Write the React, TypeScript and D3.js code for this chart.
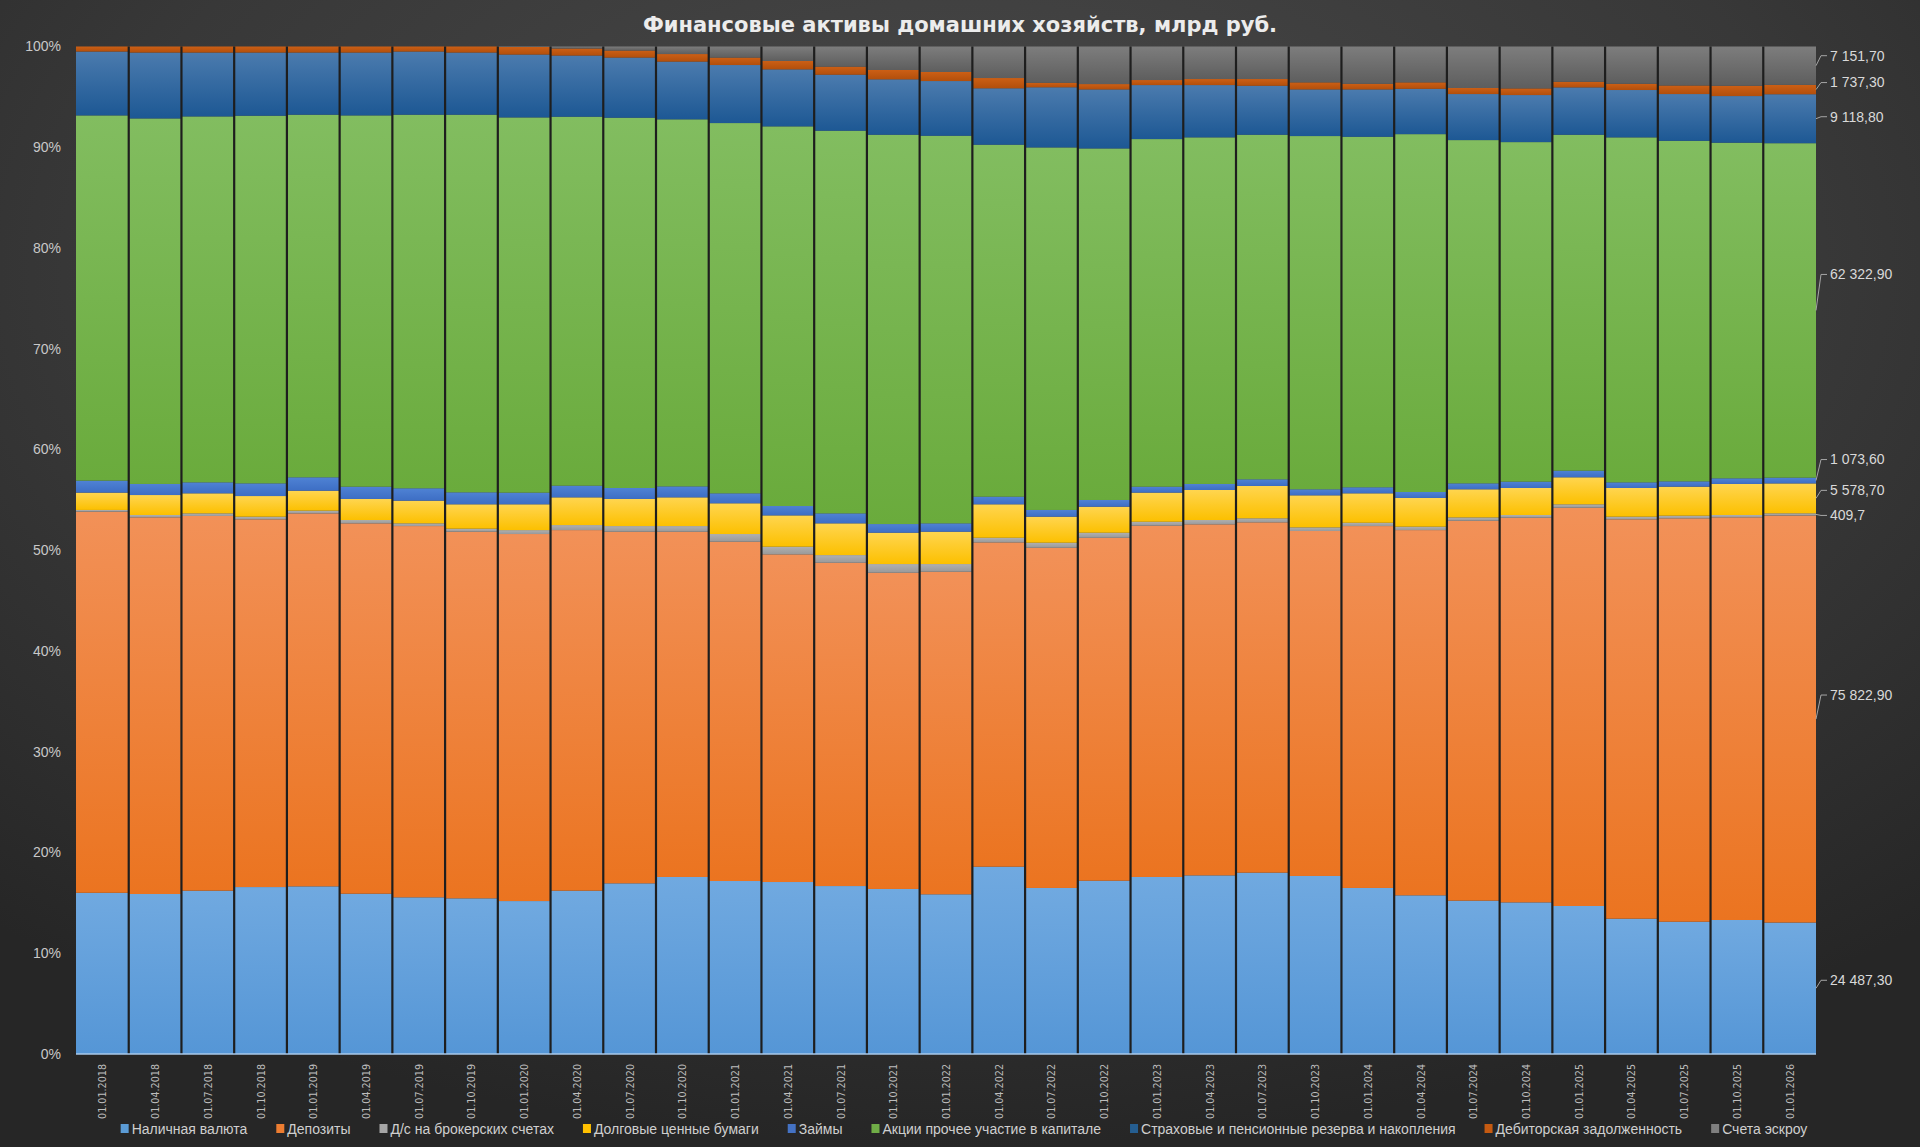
import React from 'react'
import * as d3 from 'd3'

const dates = [
    '01.01.2018', '01.04.2018', '01.07.2018', '01.10.2018',
    '01.01.2019', '01.04.2019', '01.07.2019', '01.10.2019',
    '01.01.2020', '01.04.2020', '01.07.2020', '01.10.2020',
    '01.01.2021', '01.04.2021', '01.07.2021', '01.10.2021',
    '01.01.2022', '01.04.2022', '01.07.2022', '01.10.2022',
    '01.01.2023', '01.04.2023', '01.07.2023', '01.10.2023',
    '01.01.2024', '01.04.2024', '01.07.2024', '01.10.2024',
    '01.01.2025', '01.04.2025', '01.07.2025', '01.10.2025',
    '01.01.2026'
]

// shares of total, %
const cash = [16.0, 15.88, 16.21, 16.57, 16.64, 15.91, 15.55, 15.45, 15.18, 16.21, 16.94, 17.57, 17.17, 17.07, 16.67, 16.38, 15.85, 18.59, 16.48, 17.2, 17.57, 17.73, 18.0, 17.67, 16.48, 15.75, 15.22, 15.05, 14.69, 13.43, 13.13, 13.3, 13.05]
const deposits = [37.83, 37.39, 37.19, 36.5, 37.02, 36.76, 36.85, 36.39, 36.43, 35.79, 34.9, 34.27, 33.68, 32.52, 32.09, 31.39, 32.02, 32.19, 33.77, 34.04, 34.87, 34.84, 34.77, 34.24, 35.92, 36.25, 37.71, 38.18, 39.53, 39.64, 40.04, 39.97, 40.4]
const broker = [0.17, 0.23, 0.26, 0.26, 0.27, 0.33, 0.27, 0.3, 0.39, 0.5, 0.56, 0.56, 0.76, 0.76, 0.76, 0.86, 0.76, 0.46, 0.5, 0.5, 0.39, 0.43, 0.4, 0.36, 0.33, 0.34, 0.33, 0.27, 0.34, 0.26, 0.26, 0.23, 0.22]
const debt = [1.72, 1.98, 1.99, 2.05, 1.98, 2.09, 2.25, 2.42, 2.56, 2.75, 2.69, 2.85, 3.05, 3.11, 3.15, 3.11, 3.21, 3.32, 2.58, 2.58, 2.89, 2.98, 3.21, 3.18, 2.92, 2.85, 2.79, 2.68, 2.68, 2.85, 2.88, 3.08, 2.97]
const loans = [1.19, 1.1, 1.09, 1.26, 1.33, 1.22, 1.23, 1.19, 1.16, 1.16, 1.09, 1.09, 0.99, 0.93, 0.99, 0.86, 0.83, 0.76, 0.67, 0.67, 0.59, 0.6, 0.66, 0.6, 0.6, 0.59, 0.59, 0.63, 0.66, 0.56, 0.53, 0.56, 0.57]
const equity = [36.25, 36.28, 36.32, 36.49, 35.99, 36.85, 37.08, 37.48, 37.24, 36.62, 36.75, 36.43, 36.75, 37.68, 37.98, 38.64, 38.47, 34.93, 35.98, 34.89, 34.5, 34.4, 34.2, 35.06, 34.79, 35.52, 34.07, 33.7, 33.34, 34.24, 33.8, 33.31, 33.2]
const insurance = [6.34, 6.54, 6.34, 6.27, 6.17, 6.24, 6.27, 6.17, 6.24, 6.07, 5.97, 5.73, 5.76, 5.66, 5.56, 5.5, 5.43, 5.6, 5.97, 5.86, 5.36, 5.19, 4.86, 4.63, 4.7, 4.5, 4.57, 4.67, 4.7, 4.7, 4.64, 4.63, 4.86]
const receivables = [0.5, 0.6, 0.6, 0.6, 0.6, 0.6, 0.5, 0.6, 0.75, 0.7, 0.7, 0.75, 0.74, 0.83, 0.8, 0.93, 0.9, 1.02, 0.45, 0.53, 0.5, 0.6, 0.67, 0.7, 0.56, 0.64, 0.6, 0.66, 0.56, 0.62, 0.85, 1.02, 0.93]
const escrow = [0, 0, 0, 0, 0, 0, 0, 0, 0.05, 0.2, 0.4, 0.75, 1.1, 1.44, 2.0, 2.33, 2.53, 3.13, 3.6, 3.73, 3.33, 3.23, 3.23, 3.56, 3.7, 3.56, 4.12, 4.16, 3.5, 3.7, 3.87, 3.9, 3.81]

const seriesNames = [
    'Наличная валюта',
    'Депозиты',
    'Д/с на брокерских счетах',
    'Долговые ценные бумаги',
    'Займы',
    'Акции прочее участие в капитале',
    'Страховые и пенсионные резерва и накопления',
    'Дебиторская задолженность',
    'Счета эскроу'
]
const seriesValues = [cash, deposits, broker, debt, loans, equity, insurance, receivables, escrow]

// values of the last column, млрд руб.
const lastLabels = ['24 487,30', '75 822,90', '409,7', '5 578,70', '1 073,60', '62 322,90', '9 118,80', '1 737,30', '7 151,70']

const colorTop = ['#70a9e0', '#f29158', '#b0b0b0', '#ffd54f', '#4f82d4', '#82bd60', '#4b7bae', '#cc5f15', '#7d7d7d']
const colorBottom = ['#5596d6', '#eb7420', '#999999', '#fcc000', '#3d6ec4', '#6aab3c', '#1d5894', '#b24f0c', '#5e5e5e']
const colorLegend = ['#5b9bd5', '#ed7d31', '#a5a5a5', '#ffc000', '#4472c4', '#70ad47', '#255e91', '#c55a11', '#7f7f7f']

// nudge of the right-hand labels from the middle of their segment
const labelDy = [-8, -24, 1, -8, -21, -36, -2, -7, -10]

const W = 1920
const H = 1147
const margin = { top: 46.5, right: 104, bottom: 93, left: 76 }

const labelFont = '"Liberation Sans", Arial, sans-serif'

const measure = (() => {
    const ctx = document.createElement('canvas').getContext('2d')
    return (s: string, font: string) => {
        ctx.font = font
        return ctx.measureText(s).width
    }
})()

export default function App() {
    const rows = dates.map((d, i) => {
        const r: any = { date: d }
        seriesNames.forEach((n, j) => (r[n] = seriesValues[j][i]))
        return r
    })

    const stacked = d3.stack().keys(seriesNames).offset(d3.stackOffsetExpand)(rows)

    const x = d3
        .scaleBand()
        .domain(dates)
        .range([margin.left, W - margin.right])
        .padding(0)

    const y = d3
        .scaleLinear()
        .domain([0, 1])
        .range([H - margin.bottom, margin.top])

    const yTicks = d3.range(0, 1.0001, 0.1)
    const xRight = W - margin.right
    const last = dates.length - 1

    // legend layout
    const legendFont = `14px ${labelFont}`
    const sq = 8
    const gap = 29
    const widths = seriesNames.map(n => sq + 3 + measure(n, legendFont))
    const total = d3.sum(widths) + gap * (widths.length - 1)
    let lx = W / 2 + 4 - total / 2
    const legendX = widths.map(w => {
        const p = lx
        lx += w + gap
        return p
    })
    const legendY = 1129

    return (
        <div>
            <style>{`body{margin:0;background:#2e2e2e}`}</style>
            <svg width={W} height={H} style={{ display: 'block' }}>
                <defs>
                    <radialGradient id="bg" cx="50%" cy="25%" r="75%" fx="50%" fy="20%">
                        <stop offset="0%" stopColor="#494949" />
                        <stop offset="60%" stopColor="#383838" />
                        <stop offset="100%" stopColor="#262626" />
                    </radialGradient>
                    {seriesNames.map((n, i) => (
                        <linearGradient key={n} id={`g${i}`} x1="0" y1="0" x2="0" y2="1">
                            <stop offset="0%" stopColor={colorTop[i]} />
                            <stop offset="100%" stopColor={colorBottom[i]} />
                        </linearGradient>
                    ))}
                </defs>
                <rect x={0} y={0} width={W} height={H} fill="url(#bg)" />

                <text
                    x={W / 2}
                    y={32}
                    textAnchor="middle"
                    fill="#ececec"
                    fontFamily='"DejaVu Sans", Verdana, sans-serif'
                    fontWeight="bold"
                    fontSize={21}
                >
                    Финансовые активы домашних хозяйств, млрд руб.
                </text>

                {stacked.map((s, i) => (
                    <g key={s.key} fill={`url(#g${i})`}>
                        {s.map((d, k) => {
                            const h = y(d[0]) - y(d[1])
                            if (h <= 0) return null
                            return (
                                <rect
                                    key={k}
                                    x={x(dates[k])}
                                    y={y(d[1])}
                                    width={x.bandwidth()}
                                    height={h}
                                />
                            )
                        })}
                    </g>
                ))}

                {/* dark separators between columns */}
                {dates.slice(1).map(d => (
                    <line
                        key={d}
                        x1={x(d)}
                        x2={x(d)}
                        y1={margin.top}
                        y2={H - margin.bottom}
                        stroke="#1e1e1e"
                        strokeWidth={2.2}
                    />
                ))}

                <line
                    x1={margin.left}
                    x2={xRight}
                    y1={y(0)}
                    y2={y(0)}
                    stroke="#a8c8ea"
                    strokeWidth={1.5}
                />

                {yTicks.map(t => (
                    <text
                        key={t}
                        x={margin.left - 15}
                        y={y(t)}
                        dy="0.35em"
                        textAnchor="end"
                        fill="#c8c8c8"
                        fontFamily={labelFont}
                        fontSize={14}
                    >
                        {d3.format('.0%')(t)}
                    </text>
                ))}

                {dates.map(d => (
                    <text
                        key={d}
                        transform={`translate(${x(d) + x.bandwidth() / 2 + 4},${H - margin.bottom + 10}) rotate(-90)`}
                        textAnchor="end"
                        fill="#bdbdbd"
                        fontFamily='"DejaVu Sans", Verdana, sans-serif'
                        fontSize={9.6}
                    >
                        {d}
                    </text>
                ))}

                {stacked.map((s, i) => {
                    const d = s[last]
                    const mid = y((d[0] + d[1]) / 2)
                    const ly = mid + labelDy[i]
                    return (
                        <g key={s.key}>
                            <path
                                d={`M${xRight},${mid}L${xRight + 5},${ly}L${xRight + 11},${ly}`}
                                fill="none"
                                stroke="#a6a6a6"
                                strokeWidth={1}
                            />
                            <text
                                x={xRight + 14}
                                y={ly}
                                dy="0.35em"
                                fill="#d9d9d9"
                                fontFamily={labelFont}
                                fontSize={14}
                            >
                                {lastLabels[i]}
                            </text>
                        </g>
                    )
                })}

                {seriesNames.map((n, i) => (
                    <g key={n} transform={`translate(${legendX[i]},${legendY})`}>
                        <rect x={0} y={-5} width={sq} height={sq + 1} fill={colorLegend[i]} />
                        <text
                            x={sq + 3}
                            y={0}
                            dy="0.35em"
                            fill="#cfcfcf"
                            fontFamily={labelFont}
                            fontSize={14}
                        >
                            {n}
                        </text>
                    </g>
                ))}
            </svg>
        </div>
    )
}
